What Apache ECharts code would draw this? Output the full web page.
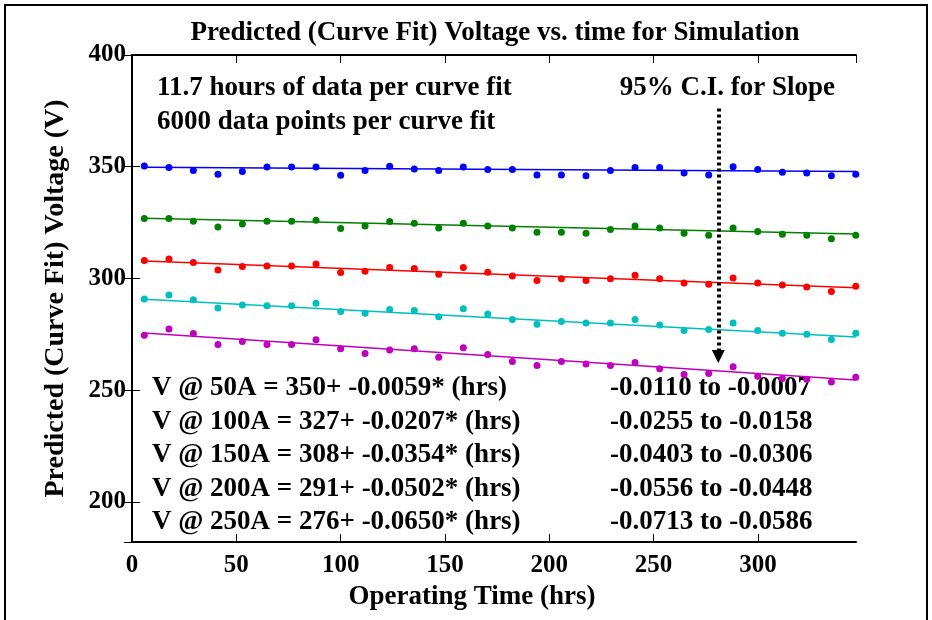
<!DOCTYPE html>
<html>
<head>
<meta charset="utf-8">
<script src="https://cdn.jsdelivr.net/npm/echarts@6/dist/echarts.min.js"></script>
<style>
  html, body { margin: 0; padding: 0; background: #fff; }
  #main { width: 932px; height: 620px; }
</style>
</head>
<body>
<div id="main"></div>
<script>
  // operating time of each curve fit (hrs)
  var hours = [5.9, 17.7, 29.4, 41.2, 52.9, 64.7, 76.5, 88.2, 100.0, 111.7,
    123.5, 135.3, 147.0, 158.8, 170.5, 182.3, 194.1, 205.8, 217.6, 229.3,
    241.1, 252.9, 264.6, 276.4, 288.1, 299.9, 311.7, 323.4, 335.2, 346.9];

  // predicted voltage at each current
  var v50A = [350.3, 349.6, 348.3, 346.6, 347.8, 349.9, 349.9, 349.9, 346.2, 348.3,
    350.2, 349.0, 348.3, 349.9, 348.7, 348.7, 346.3, 346.3, 345.9, 348.3,
    349.6, 349.6, 347.2, 346.3, 350.0, 348.7, 347.5, 347.2, 345.9, 346.6];
  var v100A = [326.8, 326.8, 325.6, 323.0, 324.4, 325.6, 325.6, 326.0, 322.3, 323.5,
    325.5, 324.7, 322.6, 324.7, 323.5, 322.6, 320.7, 320.7, 320.2, 321.9,
    323.5, 322.6, 320.2, 319.3, 322.6, 321.0, 319.8, 319.3, 317.7, 319.3];
  var v150A = [308.0, 308.7, 307.1, 303.8, 305.3, 305.6, 305.6, 306.4, 302.6, 303.2,
    304.9, 304.4, 301.9, 304.9, 302.8, 301.1, 299.1, 299.8, 299.1, 299.8,
    301.4, 299.8, 297.9, 297.4, 300.2, 297.9, 297.0, 296.2, 294.1, 296.5];
  var v200A = [290.8, 292.6, 290.4, 286.8, 288.1, 287.7, 287.7, 288.9, 285.2, 284.4,
    286.1, 285.6, 282.8, 286.4, 284.1, 281.6, 279.5, 280.7, 280.0, 280.0,
    281.6, 279.1, 276.7, 277.1, 280.0, 276.7, 275.5, 275.0, 272.7, 275.5];
  var v250A = [274.6, 277.4, 275.3, 270.4, 271.8, 270.4, 270.4, 272.5, 268.5, 266.4,
    268.0, 268.5, 264.7, 268.9, 265.9, 262.8, 261.0, 262.8, 261.7, 261.0,
    262.4, 259.5, 257.0, 257.4, 260.4, 256.2, 255.2, 254.9, 253.6, 255.8];

  // fitted line values at first and last hour
  var fitStart = [349.8, 326.9, 307.8, 290.7, 275.6];
  var fitEnd = [347.8, 319.9, 295.8, 273.8, 254.5];

  var seriesNames = ['50A', '100A', '150A', '200A', '250A'];
  var seriesValues = [v50A, v100A, v150A, v200A, v250A];
  var colors = ['#0000ff', '#008000', '#ff0000', '#00bfbf', '#bf00bf'];

  var equations = [
    'V @ 50A = 350+ -0.0059* (hrs)',
    'V @ 100A = 327+ -0.0207* (hrs)',
    'V @ 150A = 308+ -0.0354* (hrs)',
    'V @ 200A = 291+ -0.0502* (hrs)',
    'V @ 250A = 276+ -0.0650* (hrs)'
  ];
  var slopeCI = [
    '-0.0110 to -0.0007',
    '-0.0255 to -0.0158',
    '-0.0403 to -0.0306',
    '-0.0556 to -0.0448',
    '-0.0713 to -0.0586'
  ];
  // arrow under "95% C.I. for Slope": [hours, fromV, toV]
  var ciArrow = [281, 376, 265];

  var fontFam = '"Liberation Serif", "Times New Roman", serif';
  var txtFont = 'bold 27px ' + fontFam;

  var myChart = echarts.init(document.getElementById('main'));

  var series = [];
  for (var i = 0; i < seriesValues.length; i++) {
    var pts = [];
    for (var j = 0; j < hours.length; j++) {
      pts.push([hours[j], seriesValues[i][j]]);
    }
    series.push({
      name: seriesNames[i],
      type: 'scatter',
      symbolSize: 7,
      itemStyle: { color: colors[i], opacity: 1 },
      data: pts,
      z: 3
    });
    series.push({
      name: seriesNames[i] + ' fit',
      type: 'line',
      symbol: 'none',
      lineStyle: { color: colors[i], width: 1.5 },
      data: [[hours[0], fitStart[i]], [hours[hours.length - 1], fitEnd[i]]],
      z: 2
    });
  }
  series.push({
    type: 'line',
    data: [],
    markLine: {
      silent: true,
      animation: false,
      symbol: ['none', 'triangle'],
      symbolSize: [13, 13],
      label: { show: false },
      lineStyle: { color: '#000', width: 4, type: [3, 3] },
      data: [[
        { coord: [ciArrow[0], ciArrow[1]] },
        { coord: [ciArrow[0], ciArrow[2]] }
      ]]
    }
  });

  var graphics = [
    // figure frame
    { type: 'rect', shape: { x: 5, y: 5, width: 922, height: 660 },
      style: { fill: 'none', stroke: '#000', lineWidth: 2 }, z: -1 },
    { type: 'text', x: 157, y: 88, style: { text: '11.7 hours of data per curve fit', font: txtFont, fill: '#000', verticalAlign: 'middle' } },
    { type: 'text', x: 157, y: 122, style: { text: '6000 data points per curve fit', font: txtFont, fill: '#000', verticalAlign: 'middle' } },
    { type: 'text', x: 835, y: 88, style: { text: '95% C.I. for Slope', font: txtFont, fill: '#000', align: 'right', verticalAlign: 'middle' } },
    // x axis title
    { type: 'text', x: 472, y: 597, style: { text: 'Operating Time (hrs)', font: txtFont, fill: '#000', align: 'center', verticalAlign: 'middle' } }
  ];
  for (var k = 0; k < equations.length; k++) {
    graphics.push({ type: 'text', x: 152, y: 388 + k * 33.6,
      style: { text: equations[k], font: txtFont, fill: '#000', verticalAlign: 'middle' } });
    graphics.push({ type: 'text', x: 610, y: 388 + k * 33.6,
      style: { text: slopeCI[k], font: txtFont, fill: '#000', verticalAlign: 'middle' } });
  }

  var tickLabel = { fontFamily: fontFam, fontWeight: 'bold', fontSize: 25, color: '#000' };

  myChart.setOption({
    animation: false,
    backgroundColor: '#fff',
    title: {
      text: 'Predicted (Curve Fit) Voltage vs. time for Simulation',
      left: 490,
      top: 15,
      textAlign: 'center',
      textStyle: { fontFamily: fontFam, fontWeight: 'bold', fontSize: 27, color: '#000' }
    },
    grid: {
      left: 132,
      right: 76,
      top: 55,
      bottom: 78,
      outerBoundsMode: 'none'
    },
    xAxis: [{
      type: 'value',
      min: 0,
      max: 347,
      interval: 50,
      axisLine: { lineStyle: { color: '#000', width: 2 } },
      axisTick: { inside: true, length: 8, lineStyle: { color: '#000', width: 1 } },
      axisLabel: Object.assign({ margin: 11, showMaxLabel: false }, tickLabel),
      splitLine: { show: false }
    }, {
      type: 'value',
      position: 'top',
      min: 0,
      max: 347,
      interval: 50,
      axisLine: { lineStyle: { color: '#000', width: 2 } },
      axisTick: { inside: true, length: 8, lineStyle: { color: '#000', width: 1 } },
      axisLabel: { show: false },
      splitLine: { show: false }
    }],
    yAxis: [{
      type: 'value',
      min: 182,
      max: 400,
      splitNumber: 4,
      name: 'Predicted (Curve Fit) Voltage (V)',
      nameLocation: 'middle',
      nameGap: 62,
      nameTextStyle: { fontFamily: fontFam, fontWeight: 'bold', fontSize: 28, color: '#000' },
      axisLine: { lineStyle: { color: '#000', width: 2 } },
      axisTick: { inside: true, length: 8, lineStyle: { color: '#000', width: 1 } },
      axisLabel: Object.assign({ margin: 6, showMinLabel: false }, tickLabel),
      splitLine: { show: false }
    }, {
      type: 'value',
      position: 'right',
      min: 182,
      max: 400,
      splitNumber: 4,
      axisLine: { lineStyle: { color: '#000', width: 2 } },
      axisTick: { inside: true, length: 8, lineStyle: { color: '#000', width: 1 } },
      axisLabel: { show: false },
      splitLine: { show: false }
    }],
    graphic: graphics,
    series: series
  });
</script>
</body>
</html>
